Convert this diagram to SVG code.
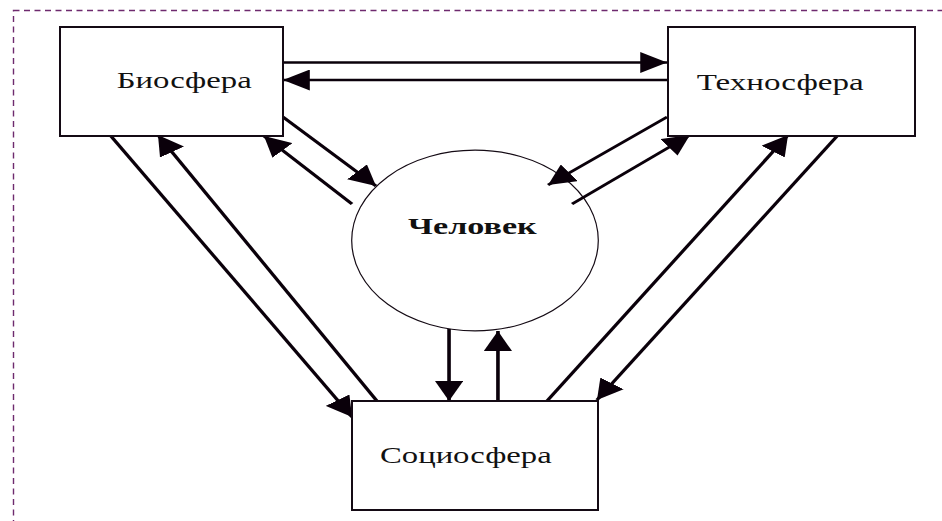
<svg xmlns="http://www.w3.org/2000/svg" width="942" height="521" viewBox="0 0 942 521">
  <style>
    .frame { fill: none; stroke: #6e2a6e; stroke-width: 1.4; stroke-dasharray: 6 4.5; }
    .box { fill: #ffffff; stroke: #140a14; stroke-width: 2; }
    .oval { fill: #ffffff; stroke: #140a14; stroke-width: 1.2; }
    .lbl { font-family: "Liberation Serif", "Times New Roman", serif; font-size: 24px; fill: #111111; }
    .bold { font-weight: bold; }
    .conn line { stroke: #0a000a; stroke-width: 2.7; fill: none; marker-end: url(#arrow); }
  </style>
  <defs>
    <marker id="arrow" markerUnits="userSpaceOnUse" markerWidth="21" markerHeight="21" refX="20" refY="10.5" orient="auto" viewBox="0 0 21 21">
      <path d="M0,0 L20,10.5 L0,21 z" fill="#0a000a"/>
    </marker>
  </defs>

  <rect class="frame" x="13.5" y="10.5" width="940" height="520"/>

  <g id="node-chelovek">
    <ellipse class="oval" cx="475" cy="240.5" rx="123.3" ry="90.3"/>
    <text class="lbl bold" x="408" y="234" textLength="128.7" lengthAdjust="spacingAndGlyphs">Человек</text>
  </g>

  <g id="connectors" class="conn" transform="scale(1.34,1)">
    <line x1="209.7" y1="62.5" x2="497.8" y2="62.5"/>
    <line x1="498.5" y1="80" x2="211.2" y2="80"/>
    <line x1="211.2" y1="117" x2="280.6" y2="186"/>
    <line x1="262.7" y1="204" x2="197.0" y2="136"/>
    <line x1="82.1" y1="135" x2="262.7" y2="417"/>
    <line x1="281.3" y1="401" x2="117.9" y2="135"/>
    <line x1="497.8" y1="117" x2="409.0" y2="185"/>
    <line x1="426.9" y1="204" x2="514.9" y2="135"/>
    <line x1="408.2" y1="401" x2="588.1" y2="135"/>
    <line x1="625.4" y1="135" x2="445.5" y2="400"/>
    <line x1="335.1" y1="329" x2="335.1" y2="401"/>
    <line x1="371.6" y1="401" x2="371.6" y2="331"/>
  </g>

  <g id="node-biosfera">
    <rect class="box" x="60" y="27" width="223" height="109"/>
    <text class="lbl" x="116.7" y="88.3" textLength="135" lengthAdjust="spacingAndGlyphs">Биосфера</text>
  </g>

  <g id="node-technosfera">
    <rect class="box" x="668" y="27" width="247" height="109"/>
    <text class="lbl" x="696.7" y="90" textLength="167" lengthAdjust="spacingAndGlyphs">Техносфера</text>
  </g>

  <g id="node-sociosfera">
    <rect class="box" x="352" y="401" width="246" height="109"/>
    <text class="lbl" x="380" y="463" textLength="171.7" lengthAdjust="spacingAndGlyphs">Социосфера</text>
  </g>
</svg>
